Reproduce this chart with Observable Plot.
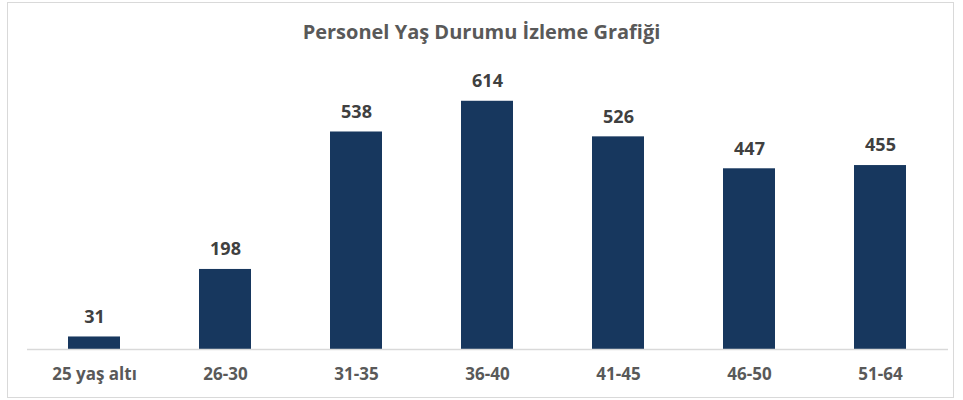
<!DOCTYPE html>
<html>
<head>
<meta charset="utf-8">
<script src="https://cdn.jsdelivr.net/npm/d3@7"></script>
<script src="https://cdn.jsdelivr.net/npm/@observablehq/plot@0.6"></script>
<style>
  body { margin: 0; background: #fff; }
  #wrap { position: relative; width: 963px; height: 400px; overflow: hidden; font-family: "Open Sans", sans-serif; }
  #frame { position: absolute; left: 7px; top: 2px; width: 947px; height: 396px; border: 1px solid #d9d9d9; box-sizing: border-box; }
  #title { position: absolute; left: 0; top: 17px; width: 963px; text-align: center; font-size: 20px; font-weight: bold; color: #595959; line-height: 30px; }
  #chart { position: absolute; left: 0; top: 0; }
</style>
</head>
<body>
<div id="wrap">
  <div id="frame"></div>
  <div id="chart"></div>
  <div id="title">Personel Yaş Durumu İzleme Grafiği</div>
</div>
<script>
const categories = ["25 yaş altı", "26-30", "31-35", "36-40", "41-45", "46-50", "51-64"];
const values = [31, 198, 538, 614, 526, 447, 455];
const data = categories.map((c, i) => ({category: c, value: values[i]}));

const chart = Plot.plot({
  width: 963,
  height: 400,
  marginLeft: 27,
  marginRight: 15,
  marginTop: 66,
  marginBottom: 51,
  style: {fontFamily: "'Open Sans', sans-serif", background: "transparent"},
  x: {domain: categories, paddingInner: 0.6, paddingOuter: 0.3, label: null, tickSize: 0},
  y: {domain: [0, 700], axis: null},
  marks: [
    Plot.barY(data, {x: "category", y: "value", fill: "#17375e"}),
    Plot.ruleY([0], {stroke: "#d9d9d9", strokeWidth: 1.5}),
    Plot.text(data, {x: "category", y: "value", text: d => String(d.value), dy: -20, fill: "#404040", fontSize: 18, fontWeight: "bold"}),
    Plot.axisX({tickSize: 0, tickPadding: 18, fontSize: 17, fontWeight: "bold", color: "#595959", label: null})
  ]
});
chart.querySelectorAll('[aria-label="x-axis tick label"] text').forEach(t => t.setAttribute("fill", "#595959"));
document.getElementById("chart").appendChild(chart);
</script>
</body>
</html>
